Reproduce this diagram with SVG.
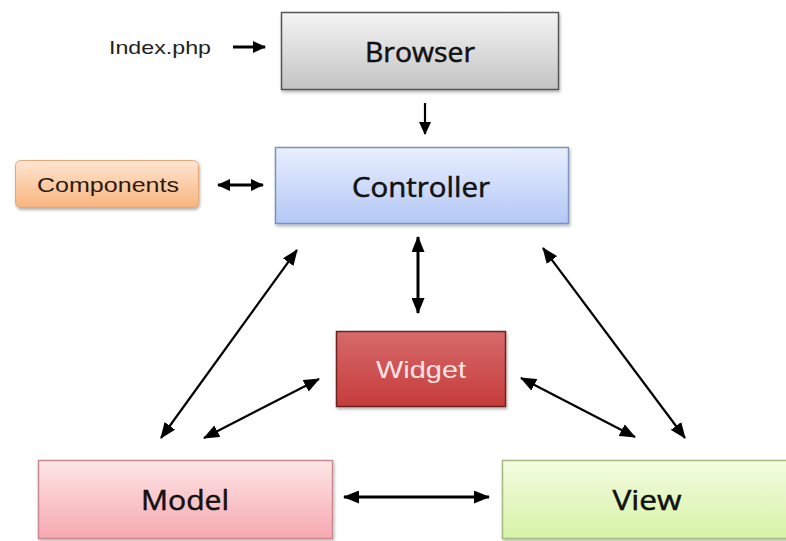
<svg xmlns="http://www.w3.org/2000/svg" width="786" height="541" viewBox="0 0 786 541">
  <defs>
    <linearGradient id="gBrowser" x1="0" y1="0" x2="0" y2="1">
      <stop offset="0" stop-color="#f4f4f4"/>
      <stop offset="1" stop-color="#c4c4c4"/>
    </linearGradient>
    <linearGradient id="gController" x1="0" y1="0" x2="0" y2="1">
      <stop offset="0" stop-color="#e8effd"/>
      <stop offset="1" stop-color="#b4c8f6"/>
    </linearGradient>
    <linearGradient id="gComponents" x1="0" y1="0" x2="0" y2="1">
      <stop offset="0" stop-color="#fee6d2"/>
      <stop offset="1" stop-color="#f9b47e"/>
    </linearGradient>
    <linearGradient id="gWidget" x1="0" y1="0" x2="0" y2="1">
      <stop offset="0" stop-color="#d66a6a"/>
      <stop offset="1" stop-color="#c63c3c"/>
    </linearGradient>
    <linearGradient id="gModel" x1="0" y1="0" x2="0" y2="1">
      <stop offset="0" stop-color="#fde6e6"/>
      <stop offset="1" stop-color="#f6a8b0"/>
    </linearGradient>
    <linearGradient id="gView" x1="0" y1="0" x2="0" y2="1">
      <stop offset="0" stop-color="#f4fce0"/>
      <stop offset="1" stop-color="#d6f2a6"/>
    </linearGradient>
    <filter id="shadow" x="-10%" y="-20%" width="120%" height="150%">
      <feDropShadow dx="1" dy="2" stdDeviation="1.5" flood-color="#000" flood-opacity="0.3"/>
    </filter>
    <!-- filled arrowheads, sized in user units so every connector gets the same head -->
    <marker id="head" viewBox="0 0 16 13" refX="15" refY="6.5" markerWidth="16" markerHeight="13" markerUnits="userSpaceOnUse" orient="auto-start-reverse">
      <path d="M0,0 L16,6.5 L0,13 Z" fill="#000"/>
    </marker>
    <marker id="headSmall" viewBox="0 0 13 12" refX="12" refY="6" markerWidth="13" markerHeight="12" markerUnits="userSpaceOnUse" orient="auto-start-reverse">
      <path d="M0,0 L13,6 L0,12 Z" fill="#000"/>
    </marker>
  </defs>
  <style>
    .box { filter: url(#shadow); }
    .label { font-family: "Open Sans", "Noto Sans", sans-serif; font-size: 27px; fill: #111; stroke: #111; stroke-width: 0.5; text-anchor: middle; dominant-baseline: central; }
    .small { font-family: "Liberation Sans", Arial, sans-serif; text-anchor: middle; dominant-baseline: central; }
    .link { stroke: #000; stroke-width: 2.2; fill: none; }
    .thick { stroke-width: 3; }
  </style>

  <rect width="786" height="541" fill="#ffffff"/>

  <!-- connectors -->
  <g id="connectors">
    <line class="link thick" x1="233" y1="47" x2="265" y2="47" marker-end="url(#headSmall)"/>
    <line class="link" x1="425" y1="103" x2="425" y2="134" marker-end="url(#headSmall)"/>
    <line class="link thick" x1="218" y1="185" x2="263" y2="185" marker-start="url(#headSmall)" marker-end="url(#headSmall)"/>
    <line class="link thick" x1="418" y1="237" x2="418" y2="313" marker-start="url(#head)" marker-end="url(#head)"/>
    <line class="link" x1="297" y1="250" x2="161" y2="438" marker-start="url(#head)" marker-end="url(#head)"/>
    <line class="link" x1="319" y1="379" x2="204" y2="438" marker-start="url(#head)" marker-end="url(#head)"/>
    <line class="link" x1="521" y1="378" x2="635" y2="437" marker-start="url(#head)" marker-end="url(#head)"/>
    <line class="link" x1="543" y1="248" x2="685" y2="438" marker-start="url(#head)" marker-end="url(#head)"/>
    <line class="link thick" x1="344" y1="497" x2="489" y2="497" marker-start="url(#head)" marker-end="url(#head)"/>
  </g>

  <!-- entry file label -->
  <g id="index">
    <text class="small" x="160" y="47" font-size="19" fill="#222" textLength="102" lengthAdjust="spacingAndGlyphs">Index.php</text>
  </g>

  <g id="browser">
    <rect class="box" x="281.5" y="12.5" width="277" height="77" fill="url(#gBrowser)" stroke="#555" stroke-width="1.5"/>
    <text class="label" x="420" y="51" textLength="110" lengthAdjust="spacingAndGlyphs">Browser</text>
  </g>

  <g id="controller">
    <rect class="box" x="275.5" y="147.5" width="293" height="76" fill="url(#gController)" stroke="#7d92bf" stroke-width="1.5"/>
    <text class="label" x="421" y="186" textLength="138" lengthAdjust="spacingAndGlyphs">Controller</text>
  </g>

  <g id="components">
    <rect class="box" x="15.5" y="160.5" width="183" height="47" rx="5" fill="url(#gComponents)" stroke="#e6a878" stroke-width="1"/>
    <text class="small" x="108" y="185" font-size="20" fill="#2a1a10" textLength="142" lengthAdjust="spacingAndGlyphs">Components</text>
  </g>

  <g id="widget">
    <rect class="box" x="336.5" y="331.5" width="169" height="75" fill="url(#gWidget)" stroke="#6e2424" stroke-width="1.5"/>
    <text class="small" x="421" y="369" font-size="24" fill="#fde4e4" textLength="90" lengthAdjust="spacingAndGlyphs">Widget</text>
  </g>

  <g id="model">
    <rect class="box" x="38.5" y="460.5" width="294" height="78" fill="url(#gModel)" stroke="#c88a8e" stroke-width="1.5"/>
    <text class="label" x="185" y="499" textLength="88" lengthAdjust="spacingAndGlyphs">Model</text>
  </g>

  <g id="view">
    <rect class="box" x="502.5" y="460.5" width="290" height="78" fill="url(#gView)" stroke="#a6b884" stroke-width="1.5"/>
    <text class="label" x="647" y="499" textLength="69" lengthAdjust="spacingAndGlyphs">View</text>
  </g>
</svg>
